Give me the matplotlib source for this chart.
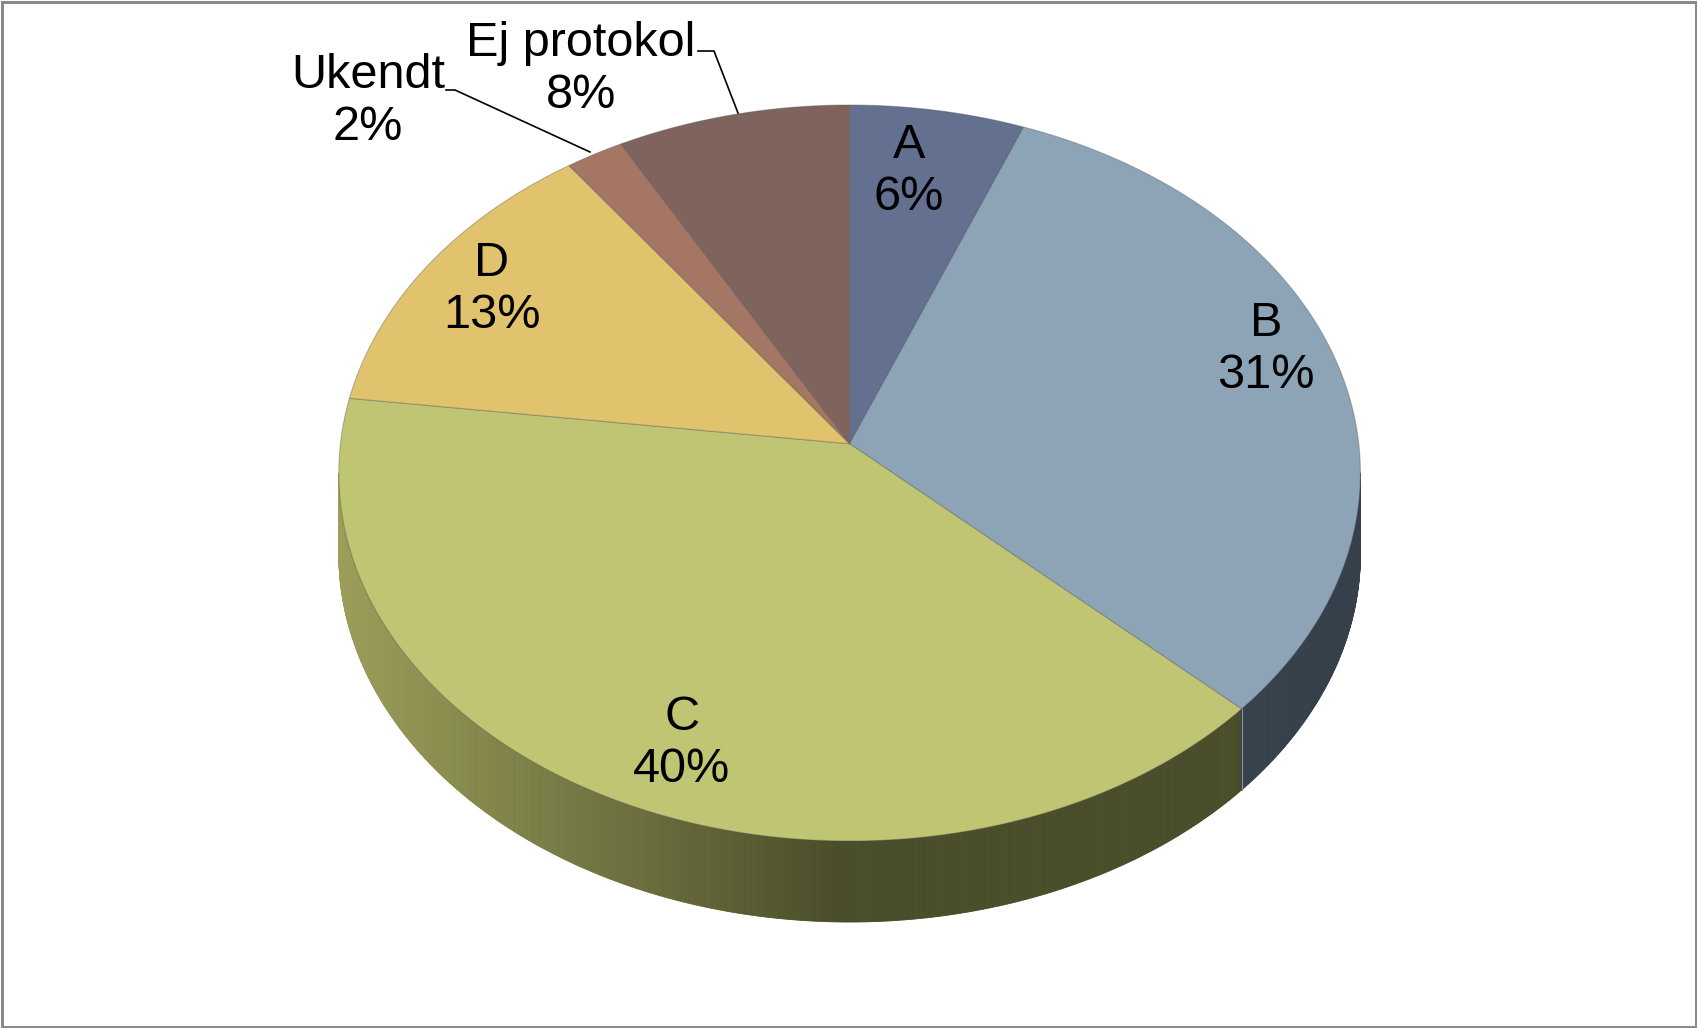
import numpy as np
import matplotlib
matplotlib.use("Agg")
import matplotlib.pyplot as plt
from matplotlib.patches import Polygon, Rectangle
from matplotlib.collections import PolyCollection

# ---------------- data ----------------
labels = ['A', 'B', 'C', 'D', 'Ukendt', 'Ej protokol']
values = [6, 31, 40, 13, 2, 8]
top_colors = ['#64708F', '#8DA4B7', '#BFC573', '#E0C36C', '#A67665', '#7F645D']
side_light = [(0.30, 0.33, 0.42), (0.21, 0.25, 0.29), (0.61, 0.62, 0.35),
              (0.55, 0.47, 0.25), (0.45, 0.32, 0.27), (0.35, 0.27, 0.25)]
side_dark = [(0.25, 0.27, 0.35), (0.21, 0.25, 0.29), (0.29, 0.30, 0.16),
             (0.40, 0.34, 0.18), (0.35, 0.25, 0.21), (0.28, 0.22, 0.20)]
# label placement (pixel layout)
label_pos = [(909, 172), (1266, 349), (682, 743), (492, 289), (368, 101), (581, 69)]

W, H = 1697, 1028
fig = plt.figure(figsize=(W / 100, H / 100), dpi=100)
ax = fig.add_axes([0, 0, 1, 1])
ax.set_xlim(0, W)
ax.set_ylim(H, 0)
ax.axis('off')

cx, cy, rx, ry, off, depth = 849.6, 473.0, 510.8, 368.0, 29.2, 81.0
a = off / ry
apex = (cx, cy - off)


def rim(theta_deg):
    t = np.radians(theta_deg)
    c, s = np.cos(t), np.sin(t)
    tau = -a * s + np.sqrt((a * s) ** 2 - a * a + 1)
    u = tau * c
    v = -a - tau * s
    return cx + rx * u, cy + ry * v


total = float(sum(values))
bounds = [90.0]
for v in values:
    bounds.append(bounds[-1] - 360.0 * v / total)


def slice_of_point(u, v):
    th = np.degrees(np.arctan2(-(v + a), u))
    while th > 90:
        th -= 360
    while th <= bounds[-1]:
        th += 360
    for i in range(len(values)):
        if bounds[i] >= th > bounds[i + 1]:
            return i
    return len(values) - 1


# ---------------- side (front half) ----------------
n = 720
phis = np.linspace(-180, 0, n + 1)
polys, cols = [], []
for k in range(n):
    p0, p1 = np.radians(phis[k]), np.radians(phis[k + 1])
    pm = 0.5 * (p0 + p1)
    um, vm = np.cos(pm), -np.sin(pm)
    i = slice_of_point(um, vm)
    x0, y0 = cx + rx * np.cos(p0), cy - ry * np.sin(p0)
    x1, y1 = cx + rx * np.cos(p1), cy - ry * np.sin(p1)
    xm = 0.5 * (x0 + x1)
    f = np.clip((xm - (cx - rx)) / (rx * 0.98), 0, 1)
    lc, dc = np.array(side_light[i]), np.array(side_dark[i])
    col = lc + (dc - lc) * f
    polys.append([(x0, y0), (x1, y1), (x1, y1 + depth), (x0, y0 + depth)])
    cols.append(tuple(col))
pc = PolyCollection(polys, facecolors=cols, edgecolors=cols, linewidths=0.6, zorder=1)
ax.add_collection(pc)

for b in bounds[1:-1]:
    x, y = rim(b)
    if y > cy + 5:
        ax.plot([x, x], [y, y + depth], color=(0.55, 0.58, 0.6), lw=0.8, zorder=1.5)

# ---------------- top surface ----------------
for i in range(len(values)):
    ths = np.linspace(bounds[i], bounds[i + 1], 200)
    pts = [apex] + [rim(t) for t in ths]
    ax.add_patch(Polygon(pts, closed=True, facecolor=top_colors[i],
                         edgecolor=(0.3, 0.3, 0.3, 0.35), lw=0.8, zorder=2))

# ---------------- labels ----------------
for lab, v, (x, y) in zip(labels, values, label_pos):
    pct = round(100 * v / total)
    ax.text(x, y, f"{lab}\n{pct}%", ha='center', va='center', fontsize=35,
            family='Liberation Sans', linespacing=1.2, color='black', zorder=3)

# leader lines
ax.plot([446, 455, 590], [90, 90, 152], color='black', lw=1.2, zorder=3)
ax.plot([698, 714, 738], [51, 51, 113], color='black', lw=1.2, zorder=3)

# border
ax.add_patch(Rectangle((1.5, 1.5), W - 3, H - 3, fill=False, ec='#898989', lw=2.2, zorder=4))

fig.savefig('out.png', dpi=100)
